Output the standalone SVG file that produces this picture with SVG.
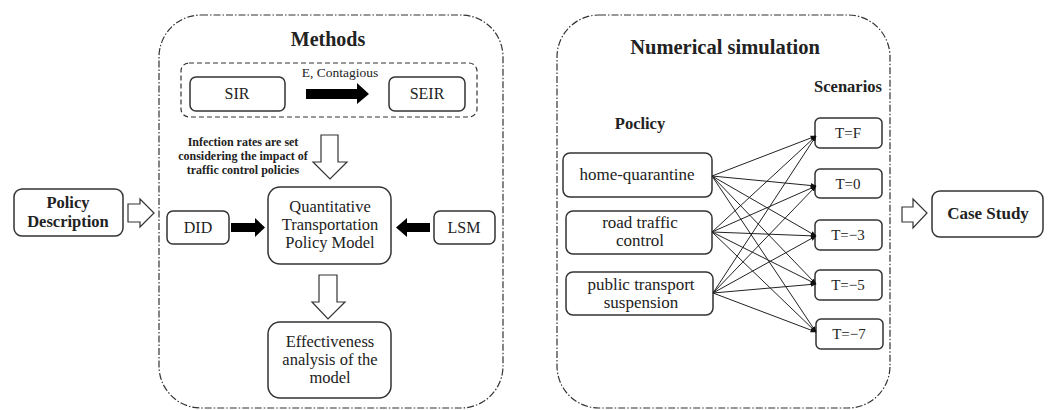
<svg xmlns="http://www.w3.org/2000/svg" width="1051" height="410" viewBox="0 0 1051 410" font-family="'Liberation Serif', 'DejaVu Serif', 'Times New Roman', serif">
<style>
  .box{fill:#fff;stroke:#333;stroke-width:1.5}
  .cont{fill:none;stroke:#333;stroke-width:1.2;stroke-dasharray:7 2 1.5 2}
  .dash{fill:none;stroke:#333;stroke-width:1.2;stroke-dasharray:5 3}
  .t{fill:#222;text-anchor:middle}
  .b{font-weight:bold}
  .hollow{fill:#fff;stroke:#333;stroke-width:1.2;stroke-linejoin:miter}
  .solid{fill:#000}
  .ln{stroke:#222;stroke-width:1;fill:none;marker-end:url(#ah)}
</style>
<defs>
  <marker id="ah" viewBox="0 0 10 10" refX="9" refY="5" markerWidth="6" markerHeight="6" orient="auto" markerUnits="userSpaceOnUse">
    <path d="M0,1 L10,5 L0,9 z" fill="#111"/>
  </marker>
</defs>
<rect width="1051" height="410" fill="#fff"/>

<g id="methods">
  <rect class="cont" x="159" y="15" width="344" height="393" rx="42"/>
  <text class="t b" x="328" y="46" font-size="20">Methods</text>
  <rect class="dash" x="181" y="63" width="296" height="54" rx="8"/>
</g>
<g id="sir">
  <rect class="box" x="190" y="77" width="95" height="34" rx="6"/>
  <text class="t" x="237" y="99" font-size="16">SIR</text>
</g>
<g id="seir">
  <rect class="box" x="389" y="77" width="76" height="34" rx="6"/>
  <text class="t" x="427" y="99" font-size="16">SEIR</text>
</g>
<text class="t" x="340" y="77" font-size="13.5">E, Contagious</text>
<text class="t b" font-size="12" x="243" y="146">Infection rates are set</text>
<text class="t b" font-size="12" x="243" y="160">considering the impact of</text>
<text class="t b" font-size="12" x="243" y="174">traffic control policies</text>

<g id="qtpm">
  <rect class="box" x="268" y="187" width="123" height="77" rx="12"/>
  <text class="t" x="330" y="212" font-size="16.5">Quantitative</text>
  <text class="t" x="330" y="230" font-size="16.5">Transportation</text>
  <text class="t" x="330" y="248" font-size="16.5">Policy Model</text>
</g>
<g id="did">
  <rect class="box" x="167" y="211" width="62" height="33" rx="6"/>
  <text class="t" x="198" y="233" font-size="16">DID</text>
</g>
<g id="lsm">
  <rect class="box" x="434" y="211" width="61" height="33" rx="6"/>
  <text class="t" x="464" y="233" font-size="16">LSM</text>
</g>
<g id="effect">
  <rect class="box" x="268" y="322" width="123" height="76" rx="12"/>
  <text class="t" x="330" y="347" font-size="16.5">Effectiveness</text>
  <text class="t" x="330" y="365" font-size="16.5">analysis of the</text>
  <text class="t" x="330" y="383" font-size="16.5">model</text>
</g>
<g id="policy">
  <rect class="box" x="14" y="189" width="109" height="47" rx="8"/>
  <text class="t b" x="68" y="208" font-size="16.5">Policy</text>
  <text class="t b" x="68" y="227" font-size="16.5">Description</text>
</g>

<g id="numsim">
  <rect class="cont" x="557" y="15" width="333" height="393" rx="42"/>
  <text class="t b" x="725" y="54" font-size="20.5">Numerical simulation</text>
  <text class="t b" x="848" y="92" font-size="16.5">Scenarios</text>
  <text class="t b" x="640" y="129" font-size="16.5">Poclicy</text>
</g>
<g id="home">
  <rect class="box" x="563" y="153" width="149" height="44" rx="7"/>
  <text class="t" x="637" y="180" font-size="17">home-quarantine</text>
</g>
<g id="road">
  <rect class="box" x="566" y="211" width="146" height="43" rx="7"/>
  <text class="t" x="640" y="228" font-size="17">road traffic</text>
  <text class="t" x="640" y="246" font-size="17">control</text>
</g>
<g id="public">
  <rect class="box" x="566" y="272" width="147" height="43" rx="7"/>
  <text class="t" x="641" y="290" font-size="17">public transport</text>
  <text class="t" x="641" y="308" font-size="17">suspension</text>
</g>
<g id="tf">
  <rect class="box" x="815" y="118" width="67" height="30" rx="5"/>
  <text class="t" x="848" y="138" font-size="15">T=F</text>
</g>
<g id="t0">
  <rect class="box" x="815" y="169" width="67" height="29" rx="5"/>
  <text class="t" x="848" y="189" font-size="15">T=0</text>
</g>
<g id="t3">
  <rect class="box" x="815" y="220" width="67" height="30" rx="5"/>
  <text class="t" x="848" y="240" font-size="15">T=−3</text>
</g>
<g id="t5">
  <rect class="box" x="815" y="270" width="67" height="30" rx="5"/>
  <text class="t" x="848" y="290" font-size="15">T=−5</text>
</g>
<g id="t7">
  <rect class="box" x="816" y="319" width="67" height="30" rx="5"/>
  <text class="t" x="849" y="339" font-size="15">T=−7</text>
</g>
<g id="case">
  <rect class="box" x="932" y="191" width="111" height="46" rx="8"/>
  <text class="t b" x="988" y="219" font-size="17">Case Study</text>
</g>

<g id="connectors">
  <path class="hollow" d="M128,204 H140 V199 L154,213 L140,227 V222 H128 Z"/>
  <path class="hollow" d="M902,207 H913 V199 L927,213 L913,228 V222 H902 Z"/>
  <path class="hollow" d="M321,135 H338 V162 H347 L330,179 L313,162 H321 Z"/>
  <path class="hollow" d="M319,275 H337 V302 H345 L328,319 L312,302 H319 Z"/>
  <path class="solid" d="M306,89 H357 V83 L369,94 L357,104 V99 H306 Z"/>
  <path class="solid" d="M231,223 H255 V218 L265,227.5 L255,237 V232 H231 Z"/>
  <path class="solid" d="M430,223 H407 V218 L396,227.5 L407,237 V232 H430 Z"/>
  <line class="ln" x1="712" y1="176" x2="816" y2="136"/>
  <line class="ln" x1="712" y1="176" x2="816" y2="186"/>
  <line class="ln" x1="712" y1="176" x2="816" y2="236"/>
  <line class="ln" x1="712" y1="176" x2="816" y2="284"/>
  <line class="ln" x1="712" y1="176" x2="816" y2="332"/>
  <line class="ln" x1="712" y1="232" x2="816" y2="136"/>
  <line class="ln" x1="712" y1="232" x2="816" y2="186"/>
  <line class="ln" x1="712" y1="232" x2="816" y2="236"/>
  <line class="ln" x1="712" y1="232" x2="816" y2="284"/>
  <line class="ln" x1="712" y1="232" x2="816" y2="332"/>
  <line class="ln" x1="713" y1="293" x2="816" y2="136"/>
  <line class="ln" x1="713" y1="293" x2="816" y2="186"/>
  <line class="ln" x1="713" y1="293" x2="816" y2="236"/>
  <line class="ln" x1="713" y1="293" x2="816" y2="284"/>
  <line class="ln" x1="713" y1="293" x2="816" y2="332"/>
</g>
</svg>
